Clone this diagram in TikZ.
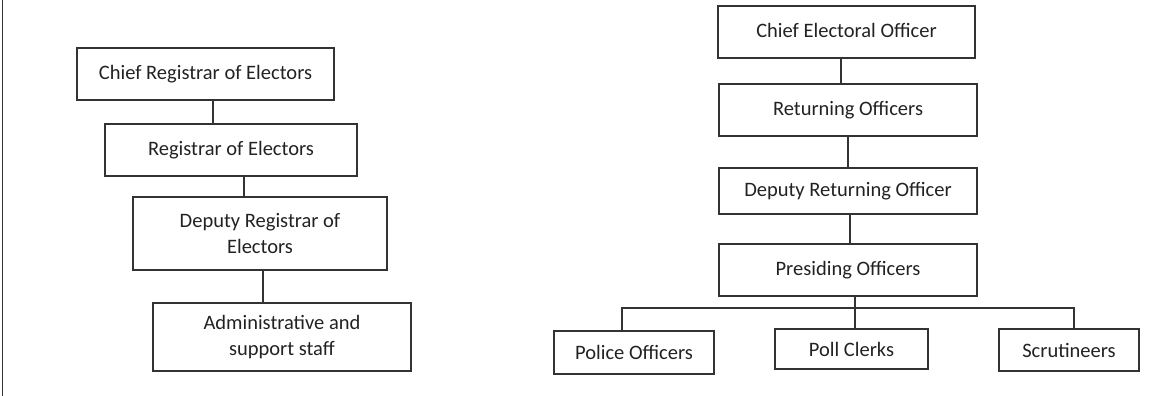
\documentclass[tikz,border=0pt]{standalone}
\usepackage{fontspec}
\setmainfont{Carlito}
\definecolor{linec}{HTML}{333333}
\definecolor{textc}{HTML}{222222}
\tikzset{
    box/.style={draw=linec, line width=1.6pt, inner sep=0pt, align=center,
        text=textc, font=\fontsize{20.5}{26}\selectfont},
    link/.style={draw=linec, line width=1.6pt}
}
\begin{document}
\begin{tikzpicture}[x=1pt, y=-1pt]
    \useasboundingbox (0,0) rectangle (1154,396);
    % Frame line on the left
    \coordinate (ftop) at (2.5, 0);
    \coordinate (fbot) at (2.5, 396);
    \draw [link] (ftop) -- (fbot);
    % Registration side
    \node [box, minimum width=257, minimum height=52] (chiefreg) at (205.5, 74) {Chief Registrar of Electors};
    \node [box, minimum width=252, minimum height=52] (registrar) at (231, 150) {Registrar of Electors};
    \node [box, minimum width=254, minimum height=73] (depreg) at (260, 233.5) {Deputy Registrar of\\Electors};
    \node [box, minimum width=258, minimum height=68] (admin) at (282, 337) {Administrative and\\support staff};
    \coordinate (r1) at (213, 0);
    \coordinate (r2) at (244, 0);
    \coordinate (r3) at (263, 0);
    \draw [link] (chiefreg.south -| r1) -- (registrar.north -| r1);
    \draw [link] (registrar.south -| r2) -- (depreg.north -| r2);
    \draw [link] (depreg.south -| r3) -- (admin.north -| r3);
    % Election side
    \node [box, minimum width=257, minimum height=52] (chiefeo) at (846.5, 32) {\raisebox{4pt}{Chief Electoral Officer}};
    \node [box, minimum width=258, minimum height=52] (returning) at (848, 110) {\raisebox{2pt}{Returning Officers}};
    \node [box, minimum width=258, minimum height=46] (depret) at (848, 191) {Deputy Returning Officer};
    \node [box, minimum width=258, minimum height=52] (presiding) at (848, 270) {\raisebox{3pt}{Presiding Officers}};
    \node [box, minimum width=160, minimum height=43] (police) at (634, 352.5) {Police Officers};
    \node [box, minimum width=153, minimum height=40] (clerks) at (851.5, 349) {Poll Clerks};
    \node [box, minimum width=140, minimum height=42] (scrut) at (1069, 350) {Scrutineers};
    \coordinate (e1) at (841, 0);
    \coordinate (e2) at (848, 0);
    \coordinate (e3) at (850, 0);
    \coordinate (e4) at (855, 0);
    \coordinate (bus) at (0, 308);
    \coordinate (pa) at (622, 0);
    \coordinate (pc) at (1074, 0);
    \draw [link] (chiefeo.south -| e1) -- (returning.north -| e1);
    \draw [link] (returning.south -| e2) -- (depret.north -| e2);
    \draw [link] (depret.south -| e3) -- (presiding.north -| e3);
    \draw [link] (presiding.south -| e4) -- (clerks.north -| e4);
    \draw [link] (police.north -| pa) -- (bus -| pa) -- (bus -| pc) -- (scrut.north -| pc);
\end{tikzpicture}
\end{document}
